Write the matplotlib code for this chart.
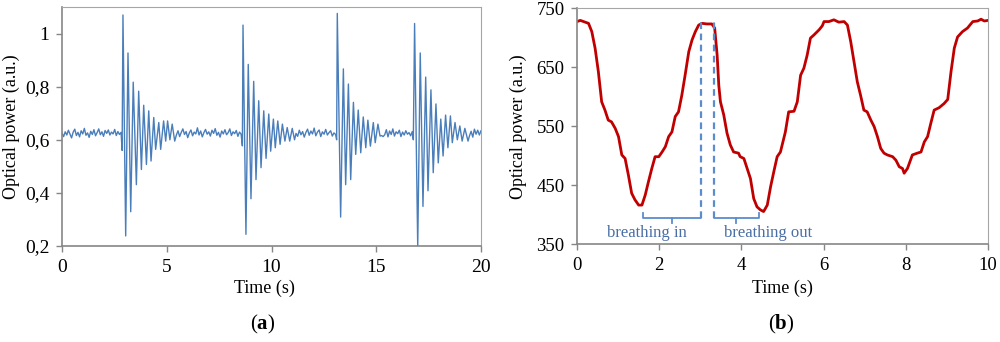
import numpy as np
import matplotlib
matplotlib.use("Agg")
import matplotlib.pyplot as plt

plt.rcParams['font.family'] = ['Liberation Serif', 'DejaVu Serif']
plt.rcParams['mathtext.fontset'] = 'custom'
plt.rcParams['mathtext.rm'] = 'Liberation Serif'
plt.rcParams['mathtext.bf'] = 'Liberation Serif:bold'

# (a) cardiac signal: quiet stretches (noise) and four damped bursts
noise0 = [0.625, 0.612, 0.630, 0.618, 0.636, 0.621, 0.607, 0.629, 0.640, 0.616,
          0.628, 0.611, 0.634, 0.622, 0.643, 0.617, 0.626, 0.609, 0.632, 0.620,
          0.638, 0.615, 0.627, 0.641, 0.619, 0.630, 0.613, 0.635, 0.624, 0.637,
          0.618, 0.629, 0.622, 0.639, 0.616, 0.631, 0.620, 0.628]
b1_t = [2.87, 2.91, 3.04, 3.15, 3.28, 3.40, 3.55, 3.66, 3.79, 3.90, 4.03, 4.14,
        4.25, 4.38, 4.47, 4.62, 4.71, 4.85, 4.95, 5.04, 5.15, 5.26, 5.38]
b1_p = [0.560, 1.070, 0.238, 0.927, 0.329, 0.817, 0.431, 0.783, 0.488, 0.730,
        0.507, 0.709, 0.520, 0.684, 0.564, 0.665, 0.564, 0.671, 0.595, 0.671,
        0.600, 0.659, 0.595]
noise1 = [0.618, 0.634, 0.612, 0.628, 0.641, 0.620, 0.631, 0.608, 0.626, 0.637,
          0.615, 0.629, 0.622, 0.645, 0.618, 0.633, 0.611, 0.627, 0.639, 0.621,
          0.630, 0.614, 0.636, 0.624, 0.642, 0.617, 0.628, 0.610, 0.633, 0.622,
          0.638, 0.619, 0.627, 0.641, 0.616, 0.630, 0.623, 0.635, 0.613, 0.629,
          0.621]
b2_t = [8.61, 8.64, 8.78, 8.89, 9.02, 9.15, 9.26, 9.39, 9.50, 9.63, 9.74, 9.87,
        9.96, 10.09, 10.18, 10.30, 10.41, 10.52, 10.64, 10.75, 10.87, 10.99, 11.10]
b2_p = [0.577, 1.032, 0.244, 0.884, 0.378, 0.820, 0.450, 0.747, 0.495, 0.709,
        0.530, 0.697, 0.557, 0.678, 0.570, 0.671, 0.583, 0.659, 0.595, 0.646,
        0.595, 0.643, 0.600]
noise2 = [0.624, 0.613, 0.636, 0.619, 0.631, 0.610, 0.628, 0.640, 0.617, 0.633,
          0.622, 0.644, 0.615, 0.629, 0.637, 0.612, 0.630, 0.621, 0.639, 0.618,
          0.627, 0.634, 0.614, 0.626, 0.620]
b3_t = [13.11, 13.14, 13.30, 13.43, 13.54, 13.67, 13.78, 13.91, 14.02, 14.14,
        14.26, 14.38, 14.50, 14.60, 14.72, 14.86, 14.95, 15.08, 15.18]
b3_p = [0.600, 1.076, 0.309, 0.867, 0.431, 0.810, 0.450, 0.741, 0.545, 0.712,
        0.551, 0.686, 0.570, 0.674, 0.576, 0.665, 0.589, 0.659, 0.614]
noise3 = [0.616, 0.612, 0.619, 0.638, 0.611, 0.633, 0.620, 0.641, 0.614, 0.630,
          0.623, 0.636, 0.612, 0.629, 0.618, 0.634, 0.621, 0.627, 0.615, 0.631]
b4_t = [16.77, 16.83, 16.98, 17.10, 17.23, 17.36, 17.47, 17.61, 17.72, 17.85,
        17.96, 18.08, 18.19, 18.31, 18.42, 18.54, 18.63, 18.76, 18.87, 18.99,
        19.10, 19.23, 19.38]
b4_p = [0.600, 1.038, 0.195, 0.927, 0.349, 0.836, 0.408, 0.788, 0.476, 0.735,
        0.513, 0.678, 0.539, 0.693, 0.570, 0.690, 0.589, 0.665, 0.600, 0.652,
        0.595, 0.643, 0.595]
noise4 = [0.615, 0.632, 0.610, 0.640, 0.621, 0.636, 0.618, 0.634]

# (b) respiration signal
resp_t = [0.00, 0.08, 0.28, 0.36, 0.44, 0.52, 0.60, 0.68, 0.76, 0.84, 0.93, 1.01,
          1.09, 1.17, 1.25, 1.33, 1.41, 1.50, 1.58, 1.66, 1.74, 1.82, 1.90, 1.99,
          2.07, 2.15, 2.23, 2.31, 2.39, 2.47, 2.55, 2.63, 2.72, 2.80, 2.88, 2.96,
          3.04, 3.16, 3.28, 3.35, 3.41, 3.45, 3.49, 3.57, 3.65, 3.73, 3.81, 3.93,
          3.97, 4.06, 4.14, 4.22, 4.30, 4.38, 4.46, 4.54, 4.63, 4.71, 4.79, 4.87,
          4.95, 5.07, 5.15, 5.28, 5.36, 5.44, 5.52, 5.60, 5.68, 5.76, 5.89, 5.97,
          6.01, 6.13, 6.25, 6.37, 6.50, 6.58, 6.66, 6.74, 6.82, 6.90, 6.98, 7.06,
          7.15, 7.23, 7.31, 7.39, 7.47, 7.55, 7.68, 7.76, 7.84, 7.92, 7.96, 8.04,
          8.16, 8.28, 8.37, 8.45, 8.53, 8.61, 8.69, 8.81, 8.93, 9.02, 9.10, 9.18,
          9.26, 9.38, 9.50, 9.63, 9.75, 9.83, 9.91, 10.0]
resp_p = [727, 729, 724, 710, 682, 642, 591, 577, 560, 557, 546, 532,
          501, 495, 467, 436, 425, 416, 416, 433, 456, 478, 498, 498,
          506, 515, 532, 540, 566, 574, 602, 636, 676, 696, 710, 721,
          724, 723, 723, 716, 670, 619, 591, 569, 538, 518, 506, 504,
          498, 495, 478, 461, 427, 413, 408, 405, 416, 447, 473, 498,
          506, 540, 574, 575, 591, 636, 648, 670, 699, 704, 713, 720,
          727, 727, 730, 726, 727, 721, 693, 659, 625, 602, 577, 574,
          560, 549, 532, 512, 504, 501, 498, 492, 481, 478, 470, 478,
          501, 504, 506, 523, 532, 555, 577, 581, 588, 595, 642, 682,
          701, 710, 716, 727, 728, 731, 728, 729]

inhale = [1.60, 3.02]
exhale = [3.33, 4.42]

axis_gray = '#868686'
box_gray = '#a6a6a6'
blue = '#4a7ebb'

fig = plt.figure(figsize=(10, 3.42), dpi=100)
ax1 = fig.add_axes([0.062, 0.2807, 0.419, 0.6988])
ax2 = fig.add_axes([0.577, 0.2865, 0.411, 0.6901])

# ---- panel (a)
segs_t = [np.linspace(0.0, 2.82, len(noise0)), b1_t,
          np.linspace(5.46, 8.55, len(noise1)), b2_t,
          np.linspace(11.17, 13.06, len(noise2)), b3_t,
          np.linspace(15.25, 16.72, len(noise3)), b4_t,
          np.linspace(19.45, 20.0, len(noise4))]
segs_p = [noise0, b1_p, noise1, b2_p, noise2, b3_p, noise3, b4_p, noise4]
t_a = np.concatenate([np.asarray(s, float) for s in segs_t])
p_a = np.concatenate([np.asarray(s, float) for s in segs_p])
ax1.plot(t_a, p_a, color=blue, lw=1.0)
ax1.set_xlim(0, 20)
ax1.set_ylim(0.2, 1.1)
ax1.set_xticks([0, 5, 10, 15, 20])
ax1.set_yticks([0.2, 0.4, 0.6, 0.8, 1.0])
ax1.set_yticklabels(['0,2', '0,4', '0,6', '0,8', '1'])

# ---- panel (b)
ax2.plot(resp_t, resp_p, color='#c00000', lw=2.0)
ax2.set_xlim(0, 10)
ax2.set_ylim(350, 750)
ax2.set_xticks([0, 2, 4, 6, 8, 10])
ax2.set_yticks([350, 450, 550, 650, 750])

bcol = '#5b8ccc'
for x in [inhale[1], exhale[0]]:
    ax2.plot([x, x], [394, 727], color=bcol, lw=1.6, ls=(0, (3, 2)))
for a, b in [inhale, exhale]:
    m = (a + b) / 2
    ax2.plot([a, a, b, b], [402, 394, 394, 402], color=bcol, lw=1.3)
    ax2.plot([m, m], [394, 386], color=bcol, lw=1.3)
ax2.text(1.71, 369, 'breathing in', color='#4a6fa5', fontsize=12,
         ha='center', va='center')
ax2.text(4.64, 369, 'breathing out', color='#4a6fa5', fontsize=12,
         ha='center', va='center')

for ax, ls in ((ax1, 14), (ax2, 13.5)):
    for s in ('top', 'right'):
        ax.spines[s].set_color(box_gray)
    for s in ('left', 'bottom'):
        ax.spines[s].set_color(axis_gray)
        ax.spines[s].set_linewidth(1.2)
    ax.tick_params(direction='out', length=4, width=1, color=axis_gray,
                   labelsize=ls, pad=5)

fig.text(0.011, 0.63, 'Optical power (a.u.)', rotation=90, ha='center',
         va='center', fontsize=13)
fig.text(0.518, 0.63, 'Optical power (a.u.)', rotation=90, ha='center',
         va='center', fontsize=13)
fig.text(0.264, 0.158, 'Time (s)', ha='center', va='center', fontsize=13)
fig.text(0.782, 0.158, 'Time (s)', ha='center', va='center', fontsize=13)
fig.text(0.263, 0.05, r'($\mathbf{a}$)', ha='center', va='center', fontsize=15)
fig.text(0.781, 0.05, r'($\mathbf{b}$)', ha='center', va='center', fontsize=15)

fig.savefig('out.png', dpi=100)
